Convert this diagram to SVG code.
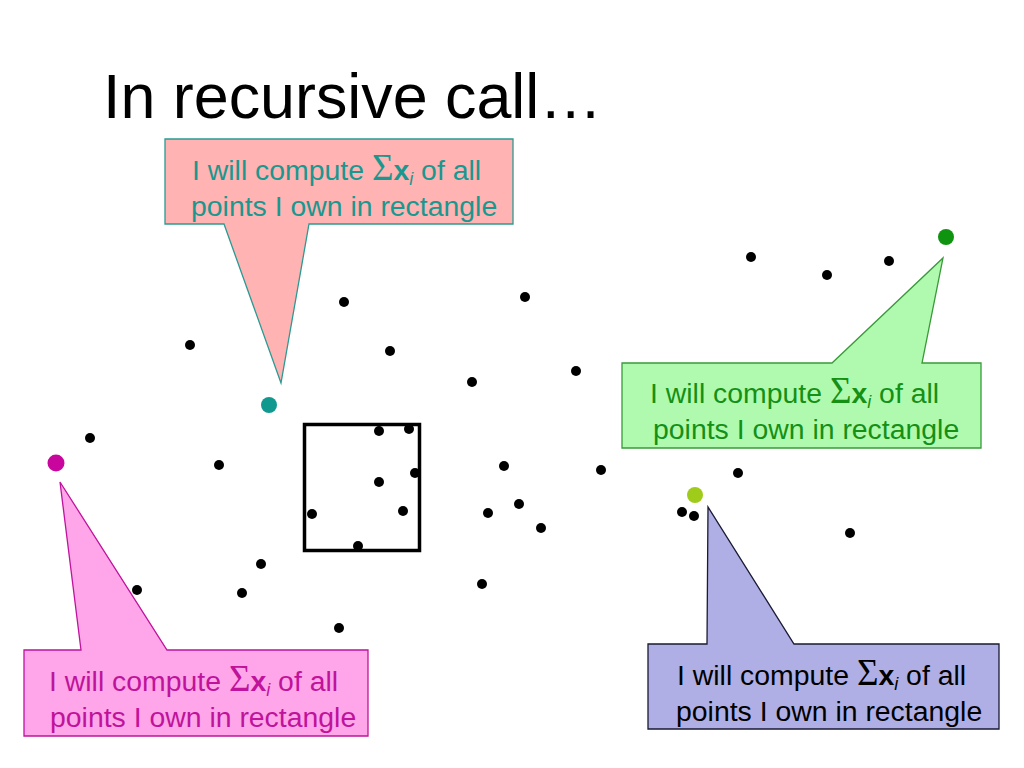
<svg xmlns="http://www.w3.org/2000/svg" width="1024" height="768" viewBox="0 0 1024 768">
<style>
.t{font-family:"Liberation Sans",Arial,sans-serif;font-size:28.4px}
.sig{font-family:"Liberation Serif","Times New Roman",serif;font-size:37px}
.bx{font-weight:bold}
.sub{font-style:italic;font-size:18px}
.dot{fill:#000}
.co{stroke-width:1.3}
</style>
<rect width="1024" height="768" fill="#fff"/>
<text x="103" y="118" font-family="Liberation Sans,Arial,sans-serif" font-size="62.8" fill="#000">In recursive call…</text>

<g id="points">
<circle class="dot" cx="344" cy="302" r="5"/>
<circle class="dot" cx="525" cy="297" r="5"/>
<circle class="dot" cx="190" cy="345" r="5"/>
<circle class="dot" cx="390" cy="351" r="5"/>
<circle class="dot" cx="472" cy="382" r="5"/>
<circle class="dot" cx="576" cy="371" r="5"/>
<circle class="dot" cx="90" cy="438" r="5"/>
<circle class="dot" cx="219" cy="465" r="5"/>
<circle class="dot" cx="751" cy="257" r="5"/>
<circle class="dot" cx="827" cy="275" r="5"/>
<circle class="dot" cx="889" cy="261" r="5"/>
<circle class="dot" cx="504" cy="466" r="5"/>
<circle class="dot" cx="601" cy="470" r="5"/>
<circle class="dot" cx="738" cy="473" r="5"/>
<circle class="dot" cx="519" cy="504" r="5"/>
<circle class="dot" cx="488" cy="513" r="5"/>
<circle class="dot" cx="541" cy="528" r="5"/>
<circle class="dot" cx="682" cy="512" r="5"/>
<circle class="dot" cx="694" cy="516" r="5"/>
<circle class="dot" cx="850" cy="533" r="5"/>
<circle class="dot" cx="261" cy="564" r="5"/>
<circle class="dot" cx="137" cy="590" r="5"/>
<circle class="dot" cx="242" cy="593" r="5"/>
<circle class="dot" cx="482" cy="584" r="5"/>
<circle class="dot" cx="339" cy="628" r="5"/>
</g>

<g id="rectangle">
<rect x="304.5" y="424.5" width="115" height="126" fill="none" stroke="#000" stroke-width="3.5"/>
<circle class="dot" cx="379" cy="431" r="5"/>
<circle class="dot" cx="409" cy="429" r="5"/>
<circle class="dot" cx="379" cy="482" r="5"/>
<circle class="dot" cx="415" cy="473" r="5"/>
<circle class="dot" cx="403" cy="511" r="5"/>
<circle class="dot" cx="312" cy="514" r="5"/>
<circle class="dot" cx="358" cy="546" r="5"/>
</g>

<g id="callout-top">
<path class="co" d="M165,139 H513 V224 H309 L281,383 L224,224 H165 Z" fill="#FFB3B3" stroke="#2A9A92"/>
<text class="t" x="192" y="180" fill="#1A978E">I will compute <tspan class="sig">Σ</tspan><tspan class="bx">x</tspan><tspan class="sub" dy="5">i</tspan><tspan dy="-5"> of all</tspan></text>
<text class="t" x="191" y="216" fill="#1A978E">points I own in rectangle</text>
<circle cx="269" cy="405" r="8" fill="#12998F"/>
</g>

<g id="callout-green">
<path class="co" d="M622,363 H832 L943,258 L922,363 H981 V448 H622 Z" fill="#B0FAB0" stroke="#3A9A3A"/>
<text class="t" x="650" y="403" fill="#159015">I will compute <tspan class="sig">Σ</tspan><tspan class="bx">x</tspan><tspan class="sub" dy="5">i</tspan><tspan dy="-5"> of all</tspan></text>
<text class="t" x="653" y="439" fill="#159015">points I own in rectangle</text>
<circle cx="946" cy="237" r="8" fill="#0F940F"/>
</g>

<g id="callout-pink">
<path class="co" d="M24,650 H81 L60,482 L167,650 H368 V736 H24 Z" fill="#FFA6EA" stroke="#C0139B"/>
<text class="t" x="49" y="691" fill="#C0139B">I will compute <tspan class="sig">Σ</tspan><tspan class="bx">x</tspan><tspan class="sub" dy="5">i</tspan><tspan dy="-5"> of all</tspan></text>
<text class="t" x="50" y="727" fill="#C0139B">points I own in rectangle</text>
<circle cx="56" cy="463" r="8.5" fill="#C8069E"/>
</g>

<g id="callout-blue">
<path class="co" d="M648,644 H707 L708,507 L794,644 H999 V729 H648 Z" fill="#AFAFE6" stroke="#1A1A33"/>
<text class="t" x="677" y="685" fill="#000">I will compute <tspan class="sig">Σ</tspan><tspan class="bx">x</tspan><tspan class="sub" dy="5">i</tspan><tspan dy="-5"> of all</tspan></text>
<text class="t" x="676" y="721" fill="#000">points I own in rectangle</text>
<circle cx="695" cy="495" r="8" fill="#9FCC1A"/>
</g>
</svg>
